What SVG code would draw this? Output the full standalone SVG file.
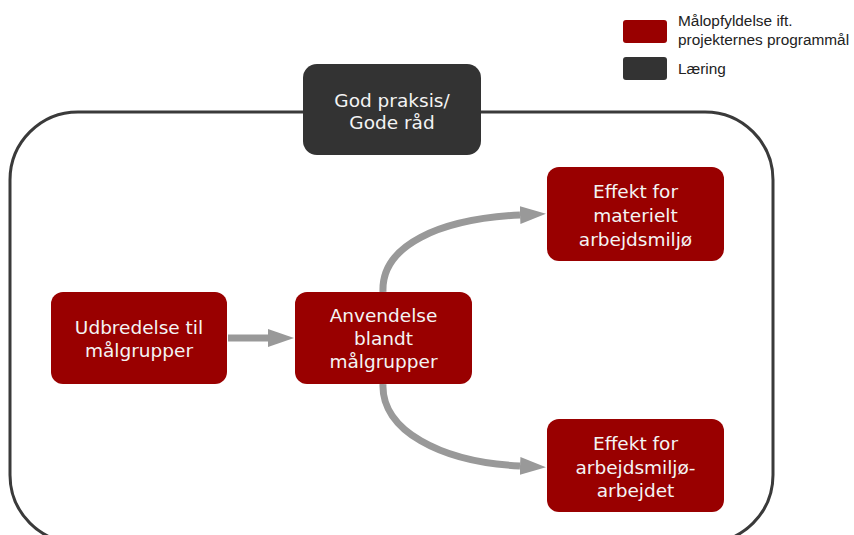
<svg xmlns="http://www.w3.org/2000/svg" width="854" height="535" viewBox="0 0 854 535">
  <style>
    .red { fill: #990000; }
    .dark { fill: #333333; }
    .lbl { font-family: "DejaVu Sans", Verdana, sans-serif; font-size: 18.5px; fill: #f4f4f4; text-anchor: middle; }
    .leg { font-family: "Liberation Sans", Arial, sans-serif; font-size: 15.4px; fill: #222222; }
    .conn { fill: none; stroke: #999999; stroke-width: 7; }
  </style>
  <defs>
    <marker id="ah" markerUnits="userSpaceOnUse" markerWidth="28" markerHeight="20" viewBox="0 -10 28 20" refX="0" refY="0" orient="auto">
      <path d="M0,-9 L26,0 L0,9 z" fill="#999999"/>
    </marker>
  </defs>
  <rect width="854" height="535" fill="#ffffff"/>

  <g id="container">
    <rect x="10" y="112" width="763" height="431" rx="68" ry="68" fill="none" stroke="#3a3a3a" stroke-width="3"/>
  </g>

  <g id="legend">
    <rect x="623" y="20" width="44" height="23" rx="3" class="red"/>
    <text x="678" y="26" class="leg">Målopfyldelse ift.</text>
    <text x="678" y="45" class="leg">projekternes programmål</text>
    <rect x="623" y="57" width="44" height="23" rx="3" class="dark"/>
    <text x="678" y="74" class="leg">Læring</text>
  </g>

  <g id="connectors">
    <path class="conn" d="M228,338 L268,338" marker-end="url(#ah)"/>
    <path class="conn" d="M383,292 C381,245 440,219 520,215" marker-end="url(#ah)"/>
    <path class="conn" d="M383,384 C381,430 440,462 520,466" marker-end="url(#ah)"/>
  </g>

  <g id="god-praksis">
    <rect x="303" y="64" width="178" height="91" rx="14" class="dark"/>
    <text x="392" y="107" class="lbl">God praksis/</text>
    <text x="392" y="129" class="lbl">Gode råd</text>
  </g>

  <g id="udbredelse">
    <rect x="51" y="292" width="176" height="92" rx="12" class="red"/>
    <text x="139" y="334" class="lbl">Udbredelse til</text>
    <text x="139" y="357" class="lbl">målgrupper</text>
  </g>

  <g id="anvendelse">
    <rect x="295" y="292" width="177" height="92" rx="12" class="red"/>
    <text x="383.5" y="322" class="lbl">Anvendelse</text>
    <text x="383.5" y="345" class="lbl">blandt</text>
    <text x="383.5" y="368" class="lbl">målgrupper</text>
  </g>

  <g id="effekt-materielt">
    <rect x="547" y="167" width="177" height="94" rx="12" class="red"/>
    <text x="635.5" y="198" class="lbl">Effekt for</text>
    <text x="635.5" y="222" class="lbl">materielt</text>
    <text x="635.5" y="246" class="lbl">arbejdsmiljø</text>
  </g>

  <g id="effekt-arbejdet">
    <rect x="547" y="419" width="177" height="93" rx="12" class="red"/>
    <text x="635.5" y="450" class="lbl">Effekt for</text>
    <text x="635.5" y="474" class="lbl">arbejdsmiljø-</text>
    <text x="635.5" y="497" class="lbl">arbejdet</text>
  </g>
</svg>
